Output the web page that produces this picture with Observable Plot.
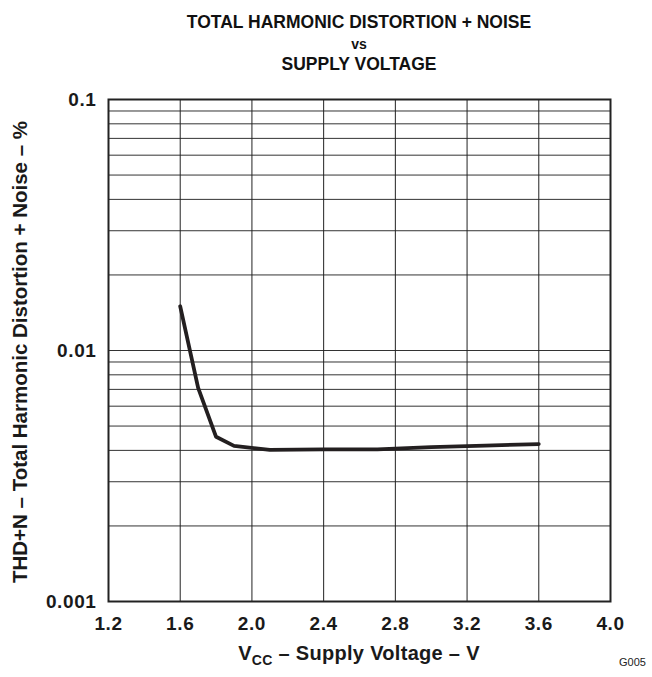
<!DOCTYPE html>
<html>
<head>
<meta charset="utf-8">
<script src="https://cdn.jsdelivr.net/npm/d3@7"></script>
<script src="https://cdn.jsdelivr.net/npm/@observablehq/plot@0.6"></script>
<style>
  html, body { margin: 0; padding: 0; background: #fff; }
  body { width: 652px; height: 677px; position: relative; font-family: "Liberation Sans", Arial, sans-serif; }
  .tl { position: absolute; left: 108px; width: 502px; text-align: center; font-weight: bold; color: #111; white-space: nowrap; }
  #t1 { top: 13px; font-size: 17.5px; line-height: 18px; }
  #t2 { top: 37px; font-size: 14px; line-height: 14px; }
  #t3 { top: 55px; font-size: 17.5px; line-height: 18px; }
  #chart { position: absolute; left: 0; top: 70px; }
  #code { position: absolute; left: 619px; top: 656px; font-size: 11px; color: #222; }
</style>
</head>
<body>
<div class="tl" id="t1">TOTAL HARMONIC DISTORTION + NOISE</div>
<div class="tl" id="t2">vs</div>
<div class="tl" id="t3">SUPPLY VOLTAGE</div>
<div id="chart"></div>
<div id="code">G005</div>
<script>
// Data
const voltage = [1.6, 1.7, 1.8, 1.9, 2.1, 2.4, 2.7, 3.0, 3.3, 3.6];
const thdn    = [0.015, 0.0071, 0.00453, 0.00417, 0.00402, 0.00404, 0.00404, 0.00412, 0.00418, 0.00424];
const xTicks = [1.2, 1.6, 2.0, 2.4, 2.8, 3.2, 3.6, 4.0];
const yTicks = [0.001, 0.01, 0.1];
const yTickLabels = ["0.001", "0.01", "0.1"];
const yGrid = [0.002,0.003,0.004,0.005,0.006,0.007,0.008,0.009,0.01,0.02,0.03,0.04,0.05,0.06,0.07,0.08,0.09];
const xGrid = [1.6, 2.0, 2.4, 2.8, 3.2, 3.6];

const data = voltage.map((v, i) => ({v, t: thdn[i]}));
const FONT = "'Liberation Sans', Arial, sans-serif";

const plot = Plot.plot({
  width: 652,
  height: 607,
  marginLeft: 108,
  marginRight: 42,
  marginTop: 29,
  marginBottom: 76,
  style: {fontFamily: FONT, fontWeight: "bold", color: "#111", background: "#fff"},
  x: {domain: [1.2, 4.0]},
  y: {type: "log", domain: [0.001, 0.1]},
  marks: [
    Plot.ruleY(yGrid, {stroke: "#333", strokeWidth: 1}),
    Plot.ruleX(xGrid, {stroke: "#222", strokeWidth: 1}),
    Plot.frame({stroke: "#222", strokeWidth: 2}),
    Plot.line(data, {x: "v", y: "t", stroke: "#231f20", strokeWidth: 3.8, strokeLinejoin: "round"}),
    Plot.axisX({ticks: xTicks, tickSize: 0, tickPadding: 15, tickFormat: d => d.toFixed(1), label: null}),
    Plot.axisY({ticks: yTicks, tickSize: 0, tickPadding: 12, tickFormat: d => yTickLabels[yTicks.indexOf(d)] ?? "", label: null})
  ]
});
document.getElementById("chart").appendChild(plot);

const svg = d3.select(plot);
svg.selectAll("g[aria-label='x-axis tick label'], g[aria-label='y-axis tick label']")
  .attr("font-size", 19).attr("letter-spacing", "0.6px").attr("fill", "#1a1a1a");
svg.selectAll("g[aria-label='x-axis tick label'] text, g[aria-label='y-axis tick label'] text")
  .attr("font-size", 19);

// x-axis title with subscript
const t = svg.append("text")
  .attr("x", 359)
  .attr("y", 590)
  .attr("text-anchor", "middle")
  .attr("font-size", 20)
  .attr("font-weight", "bold")
  .attr("letter-spacing", "0.3px")
  .attr("font-family", FONT)
  .attr("fill", "#1a1a1a");
t.append("tspan").text("V");
t.append("tspan").attr("font-size", 14).attr("dy", 5).text("CC");
t.append("tspan").attr("dy", -5).text(" – Supply Voltage – V");

// y-axis title
svg.append("text")
  .attr("transform", "translate(27,282) rotate(-90)")
  .attr("text-anchor", "middle")
  .attr("font-size", 20.5)
  .attr("font-weight", "bold")
  .attr("font-family", FONT)
  .attr("fill", "#1a1a1a")
  .text("THD+N – Total Harmonic Distortion + Noise – %");
</script>
</body>
</html>
